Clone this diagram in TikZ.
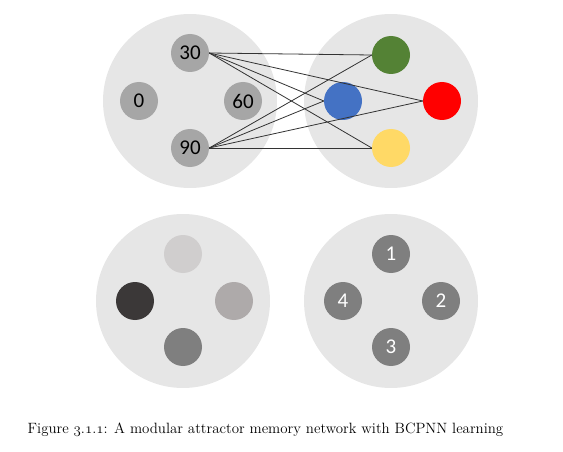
\documentclass[tikz,border=0pt]{standalone}
\usepackage{fontspec}
\usepackage{fix-cm}
\newfontfamily\numfont{Carlito}
\usetikzlibrary{positioning}

\newcommand\osnum[1]{{\usefont{OML}{cmm}{m}{it}#1}}

\definecolor{ringgray}{HTML}{E6E6E6}
\definecolor{unitgray}{HTML}{A6A6A6}
\definecolor{darkunit}{HTML}{7F7F7F}
\definecolor{linkgray}{HTML}{333333}
\definecolor{pgreen}{HTML}{548235}
\definecolor{pblue}{HTML}{4472C4}
\definecolor{pred}{HTML}{FF0000}
\definecolor{pyellow}{HTML}{FFD966}
\definecolor{shadeA}{HTML}{D0CECE}
\definecolor{shadeB}{HTML}{3B3838}
\definecolor{shadeC}{HTML}{AEAAAA}
\definecolor{shadeD}{HTML}{7F7F7F}

\begin{document}
\begin{tikzpicture}[x=1pt, y=-1pt, node distance=48pt, on grid,
  module/.style={circle, fill=ringgray, minimum size=174pt, inner sep=0pt},
  unit/.style={circle, minimum size=38pt, inner sep=0pt, font=\numfont\fontsize{21}{21}\selectfont},
  link/.style={draw=linkgray, line width=0.8pt}]

\useasboundingbox (0,0) rectangle (563,452);

\node[module] (m1) at (190,101) {};
\node[module] (m2) at (391,101) {};
\node[module] (m3) at (183,301) {};
\node[module] (m4) at (391,301) {};


\node[unit, fill=unitgray] (u30) [above=of m1] {30};
\node[unit, fill=unitgray] (u0) [left=51pt of m1] {0};
\node[unit, fill=unitgray] (u60) [right=53pt of m1] {60};
\node[unit, fill=unitgray] (u90) [below=47pt of m1] {90};


\node[unit, fill=pgreen] (green) [above=46pt of m2] {};
\node[unit, fill=pblue] (blue) [left=of m2] {};
\node[unit, fill=pred] (red) [right=51pt of m2] {};
\node[unit, fill=pyellow] (yellow) [below=47pt of m2] {};


\node[unit, fill=shadeA] (s1) [above=47pt of m3] {};
\node[unit, fill=shadeB] (s2) [left=of m3] {};
\node[unit, fill=shadeC] (s3) [right=51pt of m3] {};
\node[unit, fill=shadeD] (s4) [below=46pt of m3] {};


\node[unit, fill=darkunit, text=white] (c1) [above=47pt of m4] {1};
\node[unit, fill=darkunit, text=white] (c2) [right=50pt of m4] {2};
\node[unit, fill=darkunit, text=white] (c3) [below=46pt of m4] {3};
\node[unit, fill=darkunit, text=white] (c4) [left=of m4] {4};


\path[link]
(u30.east) edge (green.west)
(u30.east) edge (blue.west)
(u30.east) edge (red.west)
(u30.east) edge (yellow.west);


\path[link]
(u90.east) edge (green.west)
(u90.east) edge (blue.west)
(u90.east) edge (red.west)
(u90.east) edge (yellow.west);


\node (caption) at (265.5,430) {\fontsize{14.9}{17}\selectfont Figure \osnum{3}.\osnum{1}.\osnum{1}: A modular attractor memory network with BCPNN learning};

\end{tikzpicture}
\end{document}
